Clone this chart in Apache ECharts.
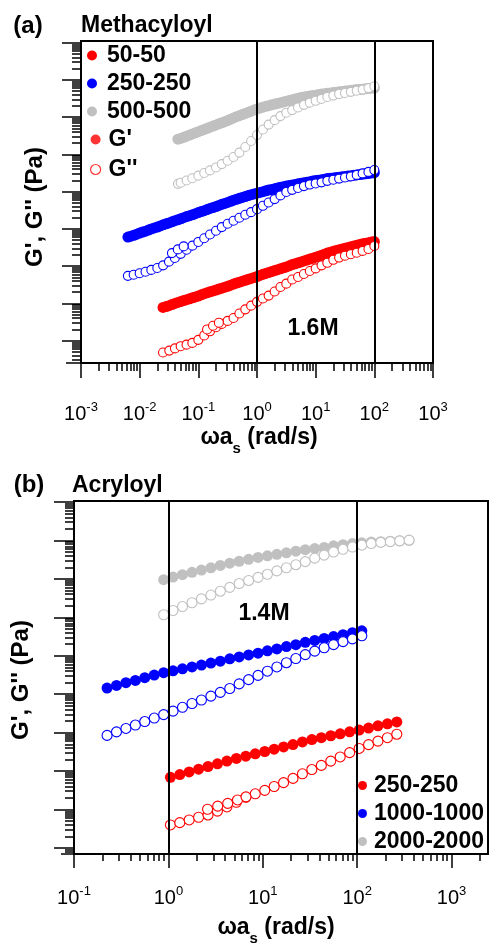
<!DOCTYPE html>
<html>
<head>
<meta charset="utf-8">
<script src="https://cdn.jsdelivr.net/npm/echarts@6/dist/echarts.min.js"></script>
<style>
  html, body { margin: 0; padding: 0; background: #fff; }
  #chart { width: 491px; height: 943px; }
</style>
</head>
<body>
<div id="chart"></div>
<script>
const FONT = '"Liberation Sans", Arial, Helvetica, sans-serif';

// ---------- panel (a): Methacyloyl, 1.6M ----------
// frequency (rad/s) and storage / loss moduli (Pa, shifted per sample)
// G' sweeps are sampled more densely than G''
const freqA50f = [0.025,0.0282,0.0316,0.0355,0.0398,0.0447,0.0501,0.0562,0.0631,0.0708,0.0794,0.0891,0.1,0.112,0.126,0.141,0.158,0.178,0.2,0.224,0.251,0.282,0.316,0.355,0.398,0.447,0.501,0.562,0.631,0.708,0.794,0.891,1,1.12,1.26,1.41,1.58,1.78,2,2.24,2.51,2.82,3.16,3.55,3.98,4.47,5.01,5.62,6.31,7.08,7.94,8.91,10,11.2,12.6,14.1,15.8,17.8,20,22.4,25.1,28.2,31.6,35.5,39.8,44.7,50.1,56.2,63.1,70.8,79.4,89.1,100];
const gpA50 = [7.8,8.24,8.7,9.33,10,10.6,11.2,11.9,12.6,13.3,14.1,14.9,15.8,17.0,18.2,19.3,20.4,21.6,22.9,24.3,25.7,27.2,28.8,30.9,33.1,35.1,37.2,39.4,41.7,44.2,46.8,49.6,52.5,56.3,60.3,63.8,67.6,71.6,75.9,80.4,85.1,90.2,95.5,102,110,116,123,130,138,146,155,164,174,184,195,209,224,237,251,263,275,288,302,316,331,347,363,380,398,412,427,442,457];
const freqA50 = [0.025,0.032,0.04,0.05,0.063,0.079,0.1,0.126,0.158,0.2,0.251,0.316,0.398,0.501,0.631,0.794,1,1.26,1.58,2,2.51,3.16,3.98,5.01,6.31,7.94,10,12.6,15.8,20,25.1,31.6,39.8,50.1,63.1,79.4,100];
const gppA50 = [0.48,0.54,0.62,0.71,0.78,0.87,1.05,1.38,1.78,2.29,2.82,3.39,4.07,5.37,6.92,8.71,11.0,13.5,16.2,20.9,27.5,33.9,43.7,51.3,61.7,74.1,87.1,105,123,148,170,191,209,229,257,288,347];
// short overlapping G'' sweep
const freqA50o = [0.141,0.178,0.224];
const gppA50o = [2.0,2.51,3.02];

const freqA250f = [0.0063,0.00708,0.00794,0.00891,0.01,0.0112,0.0126,0.0141,0.0158,0.0178,0.02,0.0224,0.0251,0.0282,0.0316,0.0355,0.0398,0.0447,0.0501,0.0562,0.0631,0.0708,0.0794,0.0891,0.1,0.112,0.126,0.141,0.158,0.178,0.2,0.224,0.251,0.282,0.316,0.355,0.398,0.447,0.501,0.562,0.631,0.708,0.794,0.891,1,1.12,1.26,1.41,1.58,1.78,2,2.24,2.51,2.82,3.16,3.55,3.98,4.47,5.01,5.62,6.31,7.08,7.94,8.91,10,11.2,12.6,14.1,15.8,17.8,20,22.4,25.1,28.2,31.6,35.5,39.8,44.7,50.1,56.2,63.1,70.8,79.4,89.1,100];
const gpA250 = [603,638,676,724,776,822,871,933,1000,1060,1120,1200,1290,1370,1450,1550,1660,1760,1860,2000,2140,2270,2400,2570,2750,2920,3090,3310,3550,3760,3980,4270,4570,4840,5130,5500,5890,6240,6610,7000,7410,7850,8320,8710,9120,9550,10000,10500,11000,11500,12000,12600,13200,13600,14100,14600,15100,15600,16200,16800,17400,18000,18600,19300,20000,20400,20900,21600,22400,22900,23400,23900,24500,25100,25700,26300,26900,27500,28200,28800,29500,30200,30900,31600,32400];
const freqA250 = [0.0063,0.0079,0.01,0.0126,0.0158,0.02,0.0251,0.0316,0.0398,0.0501,0.0631,0.0794,0.1,0.126,0.158,0.2,0.251,0.316,0.398,0.501,0.631,0.794,1,1.26,1.58,2,2.51,3.16,3.98,5.01,6.31,7.94,10,12.6,15.8,20,25.1,31.6,39.8,50.1,63.1,79.4,100];
const gppA250 = [55.0,58.9,64.6,70.8,79.4,89.1,105,132,166,214,275,355,447,562,708,891,1120,1380,1660,2000,2400,2820,3390,4170,5130,6310,7940,9770,11200,12600,14100,15500,16600,17800,19500,20900,22400,24000,25700,28200,30900,33900,38000];
const freqA250o = [0.0355,0.0447,0.0562];
const gppA250o = [224,282,339];

const freqA500f = [0.0447,0.0501,0.0562,0.0631,0.0708,0.0794,0.0891,0.1,0.112,0.126,0.141,0.158,0.178,0.2,0.224,0.251,0.282,0.316,0.355,0.398,0.447,0.501,0.562,0.631,0.708,0.794,0.891,1,1.12,1.26,1.41,1.58,1.78,2,2.24,2.51,2.82,3.16,3.55,3.98,4.47,5.01,5.62,6.31,7.08,7.94,8.91,10,11.2,12.6,14.1,15.8,17.8,20,22.4,25.1,28.2,31.6,35.5,39.8,44.7,50.1,56.2,63.1,70.8,79.4,89.1,100];
const gpA500 = [2.57e5,2.69e5,2.88e5,3.09e5,3.31e5,3.55e5,3.80e5,4.07e5,4.36e5,4.68e5,5.01e5,5.37e5,5.76e5,6.17e5,6.61e5,7.08e5,7.59e5,8.13e5,8.81e5,9.55e5,1.03e6,1.10e6,1.18e6,1.26e6,1.35e6,1.45e6,1.55e6,1.66e6,1.76e6,1.86e6,1.95e6,2.04e6,2.14e6,2.24e6,2.34e6,2.45e6,2.57e6,2.69e6,2.82e6,2.95e6,3.09e6,3.24e6,3.35e6,3.47e6,3.59e6,3.72e6,3.80e6,3.89e6,4.03e6,4.17e6,4.27e6,4.37e6,4.47e6,4.57e6,4.68e6,4.79e6,4.90e6,5.01e6,5.13e6,5.25e6,5.37e6,5.50e6,5.56e6,5.62e6,5.75e6,5.89e6,5.96e6,6.03e6];
const freqA500 = [0.045,0.05,0.063,0.079,0.1,0.126,0.158,0.2,0.251,0.316,0.398,0.501,0.631,0.794,1,1.26,1.58,2,2.51,3.16,3.98,5.01,6.31,7.94,10,12.6,15.8,20,25.1,31.6,39.8,50.1,63.1,79.4,100];
const gppA500 = [1.62e4,1.74e4,2.00e4,2.29e4,2.69e4,3.16e4,3.72e4,4.47e4,5.50e4,6.76e4,8.51e4,1.12e5,1.58e5,2.29e5,3.31e5,4.68e5,6.31e5,8.32e5,1.07e6,1.32e6,1.55e6,1.82e6,2.14e6,2.45e6,2.75e6,3.09e6,3.47e6,3.80e6,4.17e6,4.47e6,4.79e6,5.13e6,5.50e6,6.03e6,6.76e6];

// ---------- panel (b): Acryloyl, 1.4M ----------
const freqB250 = [1.05,1.32,1.66,2.09,2.63,3.31,4.17,5.25,6.61,8.32,10.5,13.2,16.6,20.9,26.3,33.1,41.7,52.5,66.1,83.2,105,132,166,209,263];
const gpB250  = [69.2,81.3,95.5,112,132,155,182,214,245,282,324,372,427,490,575,661,741,832,933,1050,1170,1320,1510,1700,1910];
const gppB250 = [3.98,4.57,5.37,6.31,7.24,9.12,11.7,15.5,20.9,25.7,31.6,39.8,50.1,64.6,85.1,110,141,182,234,302,389,490,603,741,912];
// short overlapping G'' sweep
const freqB250o = [2.6,3.33,4.25,5.4,6.64];
const gppB250o = [10.2,12.3,14.5,17.8,21.4];

const freqB1000 = [0.224,0.282,0.355,0.447,0.562,0.708,0.891,1.12,1.41,1.78,2.24,2.82,3.55,4.47,5.62,7.08,8.91,11.2,14.1,17.8,22.4,28.2,35.5,44.7,56.2,70.8,89.1,112];
const gpB1000  = [14500,17000,20000,22900,26900,31600,36300,40700,45700,51300,57500,64600,72400,83200,93300,105000,117000,135000,151000,174000,195000,224000,251000,282000,316000,355000,398000,447000];
const gppB1000 = [851,1050,1290,1580,1950,2400,2950,3630,4570,5750,7080,8910,11200,14100,18600,24000,30900,39800,51300,66100,85100,107000,132000,162000,195000,234000,275000,331000];

const freqB2000 = [0.891,1.12,1.41,1.78,2.24,2.82,3.55,4.47,5.62,7.08,8.91,11.2,14.1,17.8,22.4,28.2,35.5,44.7,56.2,70.8,89.1,112,141,178,224,282,355];
const gpB2000  = [9.55e6,1.12e7,1.29e7,1.48e7,1.70e7,1.95e7,2.24e7,2.57e7,2.88e7,3.24e7,3.63e7,3.98e7,4.37e7,4.79e7,5.25e7,5.75e7,6.17e7,6.61e7,7.24e7,7.76e7,8.32e7,8.71e7,9.12e7,9.33e7,9.55e7,9.77e7,1.00e8];
const gppB2000 = [1.17e6,1.51e6,1.91e6,2.40e6,3.02e6,3.80e6,4.79e6,6.03e6,7.59e6,9.12e6,1.10e7,1.32e7,1.62e7,1.95e7,2.34e7,2.82e7,3.47e7,4.17e7,5.01e7,5.89e7,6.76e7,7.59e7,8.32e7,8.91e7,9.33e7,9.77e7,1.02e8];

// legend entries
const samplesA = ['50-50', '250-250', '500-500'];
const samplesB = ['250-250', '1000-1000', '2000-2000'];
const moduli = ["G'", "G''"];

// axis extents in decades (log10 units)
const xDecA = [-3, 3];
const yDecA = [-0.6, 8.045];
const xDecB = [-1, 3.386];
const yDecB = [-0.156, 9.027];

// labelled x decades and major y decades
const xLabelA = [-3, -2, -1, 0, 1, 2, 3];
const xLabelB = [-1, 0, 1, 2, 3];
const yMajorA = [0, 1, 2, 3, 4, 5, 6, 7, 8];
const yMajorB = [0, 1, 2, 3, 4, 5, 6, 7, 8, 9];

// vertical reference lines (rad/s)
const refLines = [1, 100];

const RED = '#ff0000', BLUE = '#0000ff', GRAY = '#c0c0c0';

function pairs(xs, ys) { return xs.map((x, i) => [x, ys[i]]); }

// 2..9 sub-decade positions inside a log10 range
function minorTicks(range) {
  const out = [];
  for (let k = Math.floor(range[0]); k <= Math.ceil(range[1]); k++) {
    for (let m = 2; m <= 9; m++) {
      const v = k + Math.log10(m);
      if (v >= range[0] && v <= range[1]) out.push(v);
    }
  }
  return out;
}

const labelRich = {
  b: { fontSize: 20, fontFamily: FONT, color: '#000', lineHeight: 22 },
  s: { fontSize: 13, fontFamily: FONT, color: '#000', lineHeight: 13, padding: [0, 0, 14, 0] }
};

function dataAxis(gridIndex, range, position) {
  return {
    type: 'log', logBase: 10, gridIndex, position, offset: 0,
    min: Math.pow(10, range[0]), max: Math.pow(10, range[1]), show: false,
    axisLine: { show: false, onZero: false }
  };
}

function tickAxis(gridIndex, range, position, values, length, label) {
  return {
    type: 'value', gridIndex, position, offset: 0, min: range[0], max: range[1],
    axisLine: { show: false, onZero: false }, splitLine: { show: false },
    axisTick: { show: true, customValues: values, length: length, lineStyle: { color: '#000', width: 1.5 } },
    axisLabel: label || { show: false }
  };
}

function xLabel(values, margin) {
  return {
    show: true, customValues: values, margin: margin,
    formatter: v => '{b|10}{s|' + Math.round(v) + '}',
    rich: labelRich
  };
}

const xAxis = [
  dataAxis(0, xDecA, 'bottom'),
  tickAxis(0, xDecA, 'bottom', xLabelA, 15, xLabel(xLabelA, 40)),
  tickAxis(0, xDecA, 'bottom', minorTicks(xDecA), 8),
  dataAxis(1, xDecB, 'bottom'),
  tickAxis(1, xDecB, 'bottom', xLabelB, 14, xLabel(xLabelB, 33)),
  tickAxis(1, xDecB, 'bottom', minorTicks(xDecB), 7)
];
const yAxis = [
  dataAxis(0, yDecA, 'left'),
  tickAxis(0, yDecA, 'left', yMajorA, 19),
  tickAxis(0, yDecA, 'left', minorTicks(yDecA), 9),
  tickAxis(0, yDecA, 'left', [yDecA[0]], 15),
  dataAxis(1, yDecB, 'left'),
  tickAxis(1, yDecB, 'left', yMajorB, 20),
  tickAxis(1, yDecB, 'left', minorTicks(yDecB), 9),
  tickAxis(1, yDecB, 'left', [yDecB[0]], 13)
];

// grid 0 uses xAxis 0 / yAxis 0, grid 1 uses xAxis 3 / yAxis 4
const AX = [[0, 0], [3, 4]];

function filled(name, xs, ys, color, g, size) {
  return {
    type: 'scatter', name, xAxisIndex: AX[g][0], yAxisIndex: AX[g][1],
    data: pairs(xs, ys), symbol: 'circle', symbolSize: size,
    itemStyle: { color: color, opacity: 1 }, z: 2
  };
}
function hollow(name, xs, ys, color, g, size) {
  return {
    type: 'scatter', name, xAxisIndex: AX[g][0], yAxisIndex: AX[g][1],
    data: pairs(xs, ys), symbol: 'circle', symbolSize: size,
    itemStyle: { color: '#ffffff', borderColor: color, borderWidth: 1.1, opacity: 1 }, z: 3
  };
}
function refLineSeries(g) {
  return {
    type: 'scatter', name: 'ref' + g, xAxisIndex: AX[g][0], yAxisIndex: AX[g][1], data: [],
    markLine: {
      silent: true, symbol: ['none', 'none'], label: { show: false },
      lineStyle: { color: '#000', width: 2, type: 'solid' },
      data: refLines.map(v => ({ xAxis: v }))
    }
  };
}

const series = [
  refLineSeries(0),
  filled(samplesA[0], freqA50f, gpA50, RED, 0, 11),
  hollow("50-50 G''", freqA50, gppA50, RED, 0, 9),
  hollow("50-50 G'' overlap", freqA50o, gppA50o, RED, 0, 9),
  filled(samplesA[1], freqA250f, gpA250, BLUE, 0, 11),
  hollow("250-250 G''", freqA250, gppA250, BLUE, 0, 9),
  hollow("250-250 G'' overlap", freqA250o, gppA250o, BLUE, 0, 9),
  filled(samplesA[2], freqA500f, gpA500, GRAY, 0, 11),
  hollow("500-500 G''", freqA500, gppA500, GRAY, 0, 9),
  { type: 'scatter', name: moduli[0], xAxisIndex: 0, yAxisIndex: 0, data: [], itemStyle: { color: RED } },
  { type: 'scatter', name: moduli[1], xAxisIndex: 0, yAxisIndex: 0, data: [], itemStyle: { color: '#fff', borderColor: RED } },
  refLineSeries(1),
  filled('b ' + samplesB[0], freqB250, gpB250, RED, 1, 11),
  hollow("b 250-250 G''", freqB250, gppB250, RED, 1, 10),
  hollow("b 250-250 G'' overlap", freqB250o, gppB250o, RED, 1, 10),
  filled('b ' + samplesB[1], freqB1000, gpB1000, BLUE, 1, 11),
  hollow("b 1000-1000 G''", freqB1000, gppB1000, BLUE, 1, 10),
  filled('b ' + samplesB[2], freqB2000, gpB2000, GRAY, 1, 11),
  hollow("b 2000-2000 G''", freqB2000, gppB2000, GRAY, 1, 10)
];

const legendText = { fontSize: 23, fontWeight: 'bold', fontFamily: FONT, color: '#000', lineHeight: 20 };

function legendItem(name, color, open) {
  return {
    name, icon: 'circle',
    itemStyle: open ? { color: '#fff', borderColor: color, borderWidth: 1.2 } : { color: color, borderWidth: 0 }
  };
}

const legend = [
  {
    orient: 'vertical', left: 87, top: 44, padding: 0, itemGap: 5, itemWidth: 10, itemHeight: 10,
    selectedMode: false, textStyle: Object.assign({ padding: [0, 0, 0, 5] }, legendText),
    data: [legendItem(samplesA[0], RED), legendItem(samplesA[1], BLUE), legendItem(samplesA[2], GRAY)]
  },
  {
    orient: 'vertical', left: 90, top: 128, padding: 0, itemGap: 7, itemWidth: 10, itemHeight: 10,
    selectedMode: false, textStyle: Object.assign({ padding: [0, 0, 0, 3] }, legendText),
    data: [legendItem(moduli[0], RED), legendItem(moduli[1], RED, true)]
  },
  {
    orient: 'vertical', left: 358, top: 774, padding: 0, itemGap: 5, itemWidth: 9, itemHeight: 9,
    selectedMode: false, textStyle: Object.assign({ padding: [0, 0, 0, 2] }, legendText),
    formatter: n => n.replace('b ', ''),
    data: [legendItem('b ' + samplesB[0], RED), legendItem('b ' + samplesB[1], BLUE), legendItem('b ' + samplesB[2], GRAY)]
  }
];

function txt(text, x, y, size, extra) {
  return Object.assign({
    type: 'text', x, y, silent: true,
    style: {
      text, fill: '#000', font: 'bold ' + size + 'px ' + FONT,
      align: 'center', verticalAlign: 'middle', textAlign: 'center', textVerticalAlign: 'middle'
    }
  }, extra || {});
}

const subRich = { s: { fontSize: 15, fontWeight: 'bold', fontFamily: FONT, color: '#000', lineHeight: 15, padding: [22, 0, 0, 0] } };

function xTitle(x, y) {
  const t = txt('ωa{s|s} (rad/s)', x, y, 23);
  t.style.rich = subRich;
  t.style.lineHeight = 26;
  return t;
}
function yTitle(x, y) {
  return txt("G', G'' (Pa)", x, y, 24, { rotation: Math.PI / 2 });
}
function leftTxt(text, x, y, size) {
  const t = txt(text, x, y, size);
  t.style.align = 'left'; t.style.textAlign = 'left';
  return t;
}

const graphic = [
  txt('(a)', 28, 26, 24),
  leftTxt('Methacyloyl', 81, 26, 23),
  yTitle(35, 207),
  xTitle(259, 438),
  txt('1.6M', 313, 329, 23),
  txt('(b)', 29, 485, 24),
  leftTxt('Acryloyl', 72, 486, 23),
  yTitle(21, 680),
  xTitle(276, 928),
  txt('1.4M', 264, 614, 23)
];

const chart = echarts.init(document.getElementById('chart'), null, { renderer: 'canvas' });
chart.setOption({
  animation: false,
  backgroundColor: '#fff',
  grid: [
    { left: 81, top: 41, width: 352, height: 322, show: true, borderColor: '#000', borderWidth: 2, backgroundColor: 'transparent' },
    { left: 74, top: 501, width: 414, height: 353, show: true, borderColor: '#000', borderWidth: 2, backgroundColor: 'transparent' }
  ],
  xAxis, yAxis, series, legend, graphic
});
</script>
</body>
</html>
